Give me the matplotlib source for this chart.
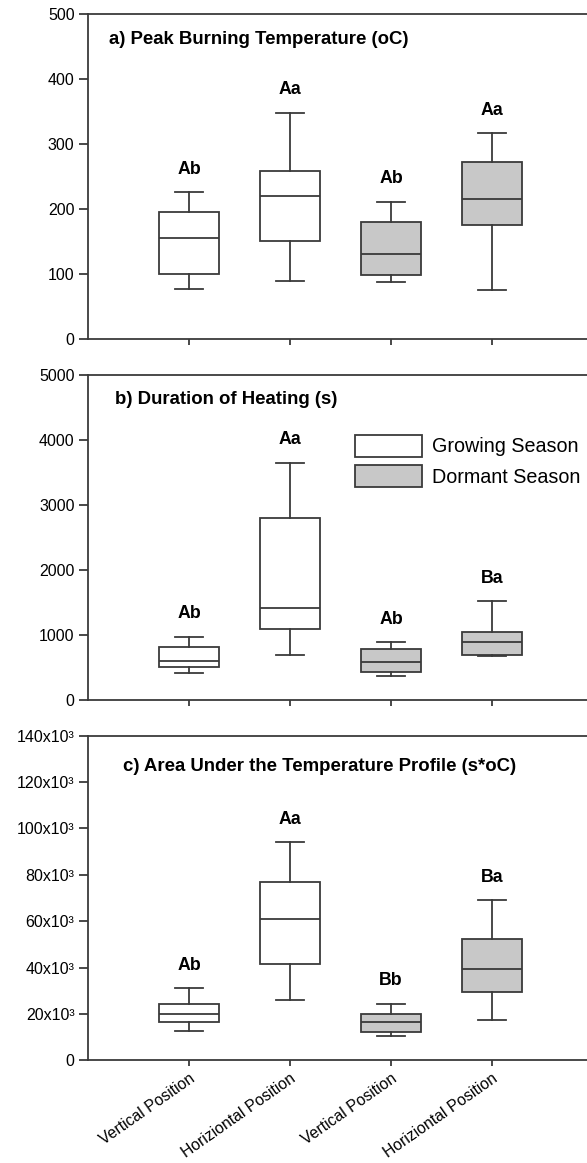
import matplotlib
matplotlib.use("Agg")
import matplotlib.pyplot as plt
from matplotlib.patches import Patch
from matplotlib.ticker import FuncFormatter

plt.rcParams['font.family'] = ['Liberation Sans', 'DejaVu Sans']

# treatments: position x season
positions = [1, 2, 3, 4]
x_labels = ["Vertical Position", "Horiziontal Position",
            "Vertical Position", "Horiziontal Position"]
season = ["Growing Season", "Growing Season", "Dormant Season", "Dormant Season"]

# a) peak burning temperature (oC)
temp_low = [77, 90, 87, 76]
temp_q1 = [100, 151, 99, 175]
temp_med = [156, 220, 131, 215]
temp_q3 = [195, 258, 180, 273]
temp_high = [226, 348, 211, 317]
temp_letters = ["Ab", "Aa", "Ab", "Aa"]

# b) duration of heating (s)
dur_low = [420, 687, 374, 672]
dur_q1 = [503, 1087, 436, 692]
dur_med = [600, 1410, 585, 887]
dur_q3 = [810, 2800, 785, 1051]
dur_high = [975, 3651, 887, 1523]
dur_letters = ["Ab", "Aa", "Ab", "Ba"]

# c) area under the temperature profile (s*oC)
area_low = [12760, 26000, 10480, 17250]
area_q1 = [16640, 41650, 12330, 29320]
area_med = [19830, 60790, 16640, 39240]
area_q3 = [24400, 77010, 20090, 52430]
area_high = [31040, 94130, 24400, 68990]
area_letters = ["Ab", "Aa", "Bb", "Ba"]

season_colors = {"Growing Season": "white", "Dormant Season": "#c8c8c8"}
line_col = "#3a3a3a"


def make_stats(low, q1, med, q3, high):
    return [dict(whislo=a, q1=b, med=c, q3=d, whishi=e, fliers=[])
            for a, b, c, d, e in zip(low, q1, med, q3, high)]


def draw_panel(ax, stats, letters, title, title_xy, ymax, ystep):
    bp = ax.bxp(stats, positions=positions, widths=0.6, capwidths=0.28,
                patch_artist=True, showfliers=False,
                boxprops=dict(edgecolor=line_col, linewidth=1.3),
                medianprops=dict(color=line_col, linewidth=1.3),
                whiskerprops=dict(color=line_col, linewidth=1.3),
                capprops=dict(color=line_col, linewidth=1.3))
    for box, s in zip(bp["boxes"], season):
        box.set_facecolor(season_colors[s])
    # significance letters just above the upper whisker
    for p, st, lab in zip(positions, stats, letters):
        ax.annotate(lab, xy=(p, st["whishi"]), xytext=(0, 16.5),
                    textcoords="offset points", ha="center", va="center",
                    fontsize=12.8, fontweight="bold")
    ax.text(title_xy[0], title_xy[1], title, transform=ax.transAxes,
            fontsize=13.4, fontweight="bold", va="center", ha="left")
    ax.set_xlim(0, 5)
    ax.set_ylim(0, ymax)
    ax.set_yticks(range(0, ymax + 1, ystep))
    ax.set_xticks(positions)
    ax.spines["right"].set_visible(False)
    for sp in ("left", "top", "bottom"):
        ax.spines[sp].set_color(line_col)
        ax.spines[sp].set_linewidth(1.3)
    ax.tick_params(axis="y", direction="out", length=6.7, width=1.3,
                   color=line_col, labelsize=11.5, pad=3)
    ax.tick_params(axis="x", direction="out", length=4.3, width=1.3,
                   color=line_col, labelsize=11.3)


fig = plt.figure(figsize=(5.87, 11.63), dpi=100)
ax_a = fig.add_axes([0.1499, 0.7085, 0.8603, 0.2795])
ax_b = fig.add_axes([0.1499, 0.3981, 0.8603, 0.2795])
ax_c = fig.add_axes([0.1499, 0.0883, 0.8603, 0.2791])

draw_panel(ax_a, make_stats(temp_low, temp_q1, temp_med, temp_q3, temp_high),
           temp_letters, "a) Peak Burning Temperature (oC)", (0.042, 0.92), 500, 100)
draw_panel(ax_b, make_stats(dur_low, dur_q1, dur_med, dur_q3, dur_high),
           dur_letters, "b) Duration of Heating (s)", (0.053, 0.923), 5000, 1000)
draw_panel(ax_c, make_stats(area_low, area_q1, area_med, area_q3, area_high),
           area_letters, "c) Area Under the Temperature Profile (s*oC)", (0.069, 0.905),
           140000, 20000)

ax_a.set_xticklabels([])
ax_b.set_xticklabels([])
ax_c.yaxis.set_major_formatter(
    FuncFormatter(lambda v, pos: "0" if v == 0 else f"{int(v / 1000)}x10\u00b3"))
ax_c.set_xticklabels(x_labels, rotation=35, ha="right", rotation_mode="anchor")

handles = [Patch(facecolor=season_colors[s], edgecolor=line_col, linewidth=1.3, label=s)
           for s in ["Growing Season", "Dormant Season"]]
ax_b.legend(handles=handles, loc="upper left", bbox_to_anchor=(0.529, 0.815),
            frameon=False, fontsize=14.2, handlelength=3.4, handleheight=1.3,
            handletextpad=0.5, labelspacing=0.45, borderpad=0, borderaxespad=0)

fig.savefig("out.png", dpi=100)
